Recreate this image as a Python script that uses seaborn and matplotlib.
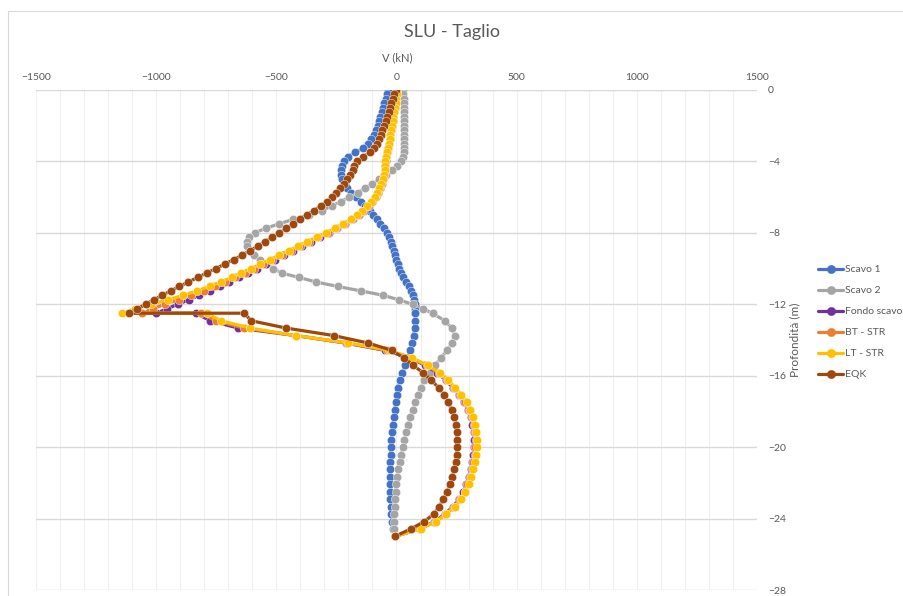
import matplotlib
matplotlib.use("Agg")
import matplotlib.pyplot as plt
from matplotlib.lines import Line2D
from matplotlib.patches import Rectangle
from matplotlib.ticker import MultipleLocator
import pandas as pd
import seaborn as sns

# Depth of each computed section (m); -12.5 appears twice (excavation level)
depth = [0.0, -0.25, -0.5, -0.75, -1.0, -1.25, -1.5, -1.75, -2.0, -2.25,
         -2.5, -2.75, -3.0, -3.25, -3.5, -3.75, -4.0, -4.25, -4.5, -4.75,
         -5.0, -5.25, -5.5, -5.75, -6.0, -6.25, -6.5, -6.75, -7.0, -7.25,
         -7.5, -7.75, -8.0, -8.25, -8.5, -8.75, -9.0, -9.25, -9.5, -9.75,
         -10.0, -10.25, -10.5, -10.75, -11.0, -11.25, -11.5, -11.75, -12.0, -12.25,
         -12.5,
         -12.5, -12.92, -13.33, -13.75, -14.17, -14.58, -15.0, -15.42, -15.83, -16.25,
         -16.67, -17.08, -17.5, -17.92, -18.33, -18.75, -19.17, -19.58, -20.0, -20.42,
         -20.83, -21.25, -21.67, -22.08, -22.5, -22.92, -23.33, -23.75, -24.17, -24.58,
         -25.0]

# Shear V (kN) for each load case
scavo_1 = [-37, -41, -45, -50, -56, -61, -67, -73, -79, -87,
           -95, -106, -120, -138, -172, -203, -218, -226, -230, -229,
           -225, -216, -204, -188, -168, -148, -129, -112, -97, -83,
           -68, -52, -38, -30, -23, -18, -12, -6, 0, 5,
           12, 20, 28, 40, 53, 62, 69, 73, 76, 78,
           79,
           79, 79, 76, 71, 65, 56, 47, 36, 24, 13,
           6, 1, -3, -7, -11, -15, -18, -21, -23, -24,
           -25, -26, -26, -26, -25, -25, -23, -21, -18, -14,
           -8]
scavo_2 = [29, 29, 30, 30, 30, 31, 31, 31, 32, 32,
           32, 33, 33, 33, 32, 28, 18, 3, -17, -42,
           -71, -100, -130, -162, -196, -232, -270, -310, -365, -430,
           -490, -545, -590, -614, -622, -620, -608, -592, -568, -542,
           -512, -478, -405, -335, -245, -148, -55, 10, 67, 110,
           150,
           150, 200, 230, 242, 232, 210, 185, 160, 138, 115,
           100, 90, 78, 68, 58, 48, 40, 33, 26, 19,
           13, 8, 3, 0, -3, -5, -7, -9, -10, -11,
           -8]
fondo_scavo = [4, 2, -1, -4, -7, -10, -13, -16, -18, -21,
               -25, -29, -33, -37, -40, -42, -45, -47, -48, -49,
               -55, -61, -69, -77, -87, -100, -116, -135, -157, -183,
               -214, -247, -282, -319, -356, -393, -431, -469, -507, -545,
               -580, -617, -655, -695, -735, -775, -820, -865, -910, -955,
               -1000,
               -835, -775, -660, -420, -212, -48, 55, 120, 170, 205,
               235, 260, 282, 297, 308, 316, 321, 324, 323, 320,
               315, 308, 300, 290, 278, 260, 235, 201, 158, 96,
               -8]
bt_str = [4, 2, -1, -4, -7, -10, -13, -16, -18, -21,
          -25, -29, -33, -37, -40, -43, -46, -48, -49, -50,
          -56, -62, -70, -79, -89, -102, -119, -139, -160, -187,
          -218, -252, -287, -325, -364, -401, -440, -478, -517, -556,
          -592, -631, -670, -712, -756, -802, -853, -907, -964, -1015,
          -1058,
          -815, -752, -635, -418, -205, -38, 60, 125, 175, 210,
          240, 265, 287, 302, 313, 321, 326, 329, 328, 325,
          320, 313, 305, 295, 283, 264, 239, 205, 161, 98,
          -8]
lt_str = [4, 2, -1, -4, -7, -10, -13, -16, -18, -21,
          -25, -29, -33, -37, -40, -43, -46, -48, -49, -50,
          -56, -63, -71, -80, -91, -105, -122, -142, -163, -190,
          -222, -257, -292, -332, -372, -410, -449, -488, -527, -566,
          -605, -645, -686, -730, -778, -830, -888, -952, -1022, -1090,
          -1142,
          -790, -730, -610, -420, -200, -30, 65, 130, 180, 215,
          245, 270, 292, 307, 318, 326, 331, 334, 333, 330,
          325, 318, 310, 300, 287, 268, 243, 208, 163, 100,
          -8]
eqk = [-4, -10, -16, -21, -26, -32, -38, -45, -52, -59,
       -66, -73, -82, -94, -112, -140, -166, -175, -183, -194,
       -206, -220, -235, -251, -268, -288, -316, -344, -373, -401,
       -430, -459, -487, -517, -547, -578, -610, -643, -678, -715,
       -752, -790, -828, -866, -903, -940, -975, -1010, -1044, -1078,
       -1112,
       -633, -605, -460, -262, -118, -20, 30, 70, 110, 145,
       175, 198, 215, 230, 241, 247, 250, 252, 252, 250,
       246, 240, 232, 222, 210, 195, 177, 155, 115, 60,
       -8]

series_names = ["Scavo 1", "Scavo 2", "Fondo scavo", "BT - STR", "LT - STR", "EQK"]
series_values = [scavo_1, scavo_2, fondo_scavo, bt_str, lt_str, eqk]
colors = ["#4472C4", "#A5A5A5", "#7030A0", "#ED7D31", "#FFC000", "#9E480E"]

x_ticks = [-1500, -1000, -500, 0, 500, 1000, 1500]
y_ticks = [0, -4, -8, -12, -16, -20, -24, -28]

frames = []
for name, vals in zip(series_names, series_values):
    frames.append(pd.DataFrame({"V": vals, "depth": depth, "case": name}))
df = pd.concat(frames, ignore_index=True)

sns.set_theme(style="white")
plt.rcParams["font.family"] = ["Lato", "DejaVu Sans"]
text_col = "#595959"
lw = 2.3
ms = 6.0

fig = plt.figure(figsize=(9.04, 5.96), dpi=100)
ax = fig.add_axes([36 / 904, 1 - 590 / 596, 721 / 904, 500 / 596])

sns.lineplot(data=df, x="V", y="depth", hue="case", hue_order=series_names,
             palette=dict(zip(series_names, colors)), sort=False, estimator=None,
             units="case", marker="o", markersize=ms, markeredgewidth=0.3,
             linewidth=lw, legend=False, ax=ax)

ax.set_xlim(-1500, 1500)
ax.set_ylim(-28, 0)
ax.set_xticks(x_ticks)
ax.set_yticks(y_ticks)
ax.xaxis.set_minor_locator(MultipleLocator(100))
ax.xaxis.tick_top()
ax.yaxis.tick_right()
ax.tick_params(axis="both", which="both", length=0, colors=text_col, labelsize=7.5)
ax.tick_params(axis="x", pad=6)
ax.tick_params(axis="y", pad=8)
for lab in ax.get_yticklabels():
    lab.set_horizontalalignment("left")

ax.set_axisbelow(True)
ax.grid(False)
ax.grid(True, axis="y", which="major", color="#D9D9D9", linewidth=1.0)
ax.grid(True, axis="x", which="both", color="#EFEFEF", linewidth=0.8)
for sp in ax.spines.values():
    sp.set_visible(False)

ax.set_xlabel("V (kN)", color=text_col, fontsize=8)
ax.xaxis.set_label_position("top")
ax.xaxis.set_label_coords(0.5007, 1.064)
ax.xaxis.label.set_va("center")
ax.set_ylabel("Profondità (m)", color=text_col, fontsize=8.5)
ax.yaxis.set_label_position("right")
ax.yaxis.set_label_coords(1.0527, 0.5)
ax.yaxis.label.set_va("center")

fig.text(452 / 904, 1 - 32 / 596, "SLU - Taglio", ha="center", va="center",
         fontsize=13, color=text_col)

handles = [Line2D([0], [0], color=c, lw=lw, marker="o", markersize=ms,
                  markeredgewidth=0.3) for c in colors]
leg = fig.legend(handles, series_names, loc="upper left",
                 bbox_to_anchor=(814 / 904, 1 - 261 / 596),
                 bbox_transform=fig.transFigure, frameon=False, fontsize=7.5,
                 handlelength=2.4, handletextpad=0.15, labelspacing=1.12,
                 borderaxespad=0)
for t in leg.get_texts():
    t.set_color(text_col)

fig.patches.append(Rectangle((8 / 904, -0.1), 1.2, 1.1 - 11 / 596,
                             transform=fig.transFigure, fill=False,
                             edgecolor="#D9D9D9", linewidth=0.8))

fig.savefig("out.png", dpi=100)
